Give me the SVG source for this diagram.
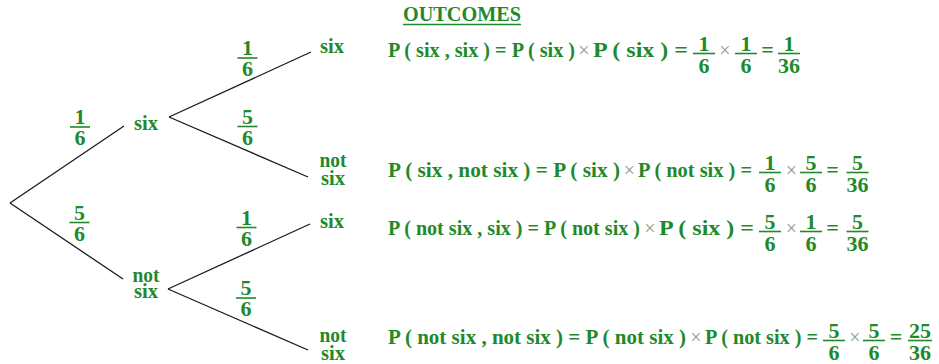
<svg xmlns="http://www.w3.org/2000/svg" width="939" height="364" viewBox="0 0 939 364">
<style>
text{font-family:"Liberation Serif","Times New Roman",serif;font-weight:bold;font-size:22px;fill:#1f8a2b}
.m{text-anchor:middle}
.x{font-weight:normal;font-size:20px;fill:#8a9e8a}
.bar{stroke:#1f8a2b;stroke-width:1.6}
.edge{stroke:#1a1a1a;stroke-width:1.3;fill:none}
</style>
<rect width="939" height="364" fill="#ffffff"/>

<g id="connectors" class="edge">
<line x1="10" y1="203" x2="124" y2="126"/>
<line x1="10" y1="203" x2="123" y2="279"/>
<line x1="169" y1="117" x2="311" y2="52"/>
<line x1="169" y1="117" x2="308" y2="177"/>
<line x1="168" y1="289" x2="310" y2="224"/>
<line x1="168" y1="289" x2="308" y2="350"/>
</g>

<g id="edge-labels">
<g id="p-root-six"><line class="bar" x1="70" y1="127" x2="90" y2="127"/><text class="m" x="80" y="124">1</text><text class="m" x="80" y="145">6</text></g>
<g id="p-root-notsix"><line class="bar" x1="69.5" y1="222.5" x2="89.5" y2="222.5"/><text class="m" x="79.5" y="219.5">5</text><text class="m" x="79.5" y="240.5">6</text></g>
<g id="p-six-six"><line class="bar" x1="237.5" y1="58" x2="257.5" y2="58"/><text class="m" x="247.5" y="55">1</text><text class="m" x="247.5" y="76">6</text></g>
<g id="p-six-notsix"><line class="bar" x1="237.5" y1="126.5" x2="257.5" y2="126.5"/><text class="m" x="247.5" y="123.5">5</text><text class="m" x="247.5" y="144.5">6</text></g>
<g id="p-notsix-six"><line class="bar" x1="236.5" y1="227.5" x2="256.5" y2="227.5"/><text class="m" x="246.5" y="224.5">1</text><text class="m" x="246.5" y="245.5">6</text></g>
<g id="p-notsix-notsix"><line class="bar" x1="236" y1="298" x2="256" y2="298"/><text class="m" x="246" y="295">5</text><text class="m" x="246" y="316">6</text></g>
</g>

<g id="node-six"><text class="m" x="146" y="129.5" textLength="24" lengthAdjust="spacingAndGlyphs">six</text></g>
<g id="node-notsix"><text class="m" x="146" y="281.5" textLength="27" lengthAdjust="spacingAndGlyphs">not</text><text class="m" x="146" y="298" textLength="24" lengthAdjust="spacingAndGlyphs">six</text></g>
<g id="leaf-six-six"><text class="m" x="332" y="53" textLength="24" lengthAdjust="spacingAndGlyphs">six</text></g>
<g id="leaf-six-notsix"><text class="m" x="333" y="167" textLength="27" lengthAdjust="spacingAndGlyphs">not</text><text class="m" x="333" y="185" textLength="24" lengthAdjust="spacingAndGlyphs">six</text></g>
<g id="leaf-notsix-six"><text class="m" x="332" y="228" textLength="24" lengthAdjust="spacingAndGlyphs">six</text></g>
<g id="leaf-notsix-notsix"><text class="m" x="333" y="342" textLength="27" lengthAdjust="spacingAndGlyphs">not</text><text class="m" x="333" y="360" textLength="24" lengthAdjust="spacingAndGlyphs">six</text></g>

<g id="outcomes">
<text x="403" y="21" textLength="118" lengthAdjust="spacingAndGlyphs">OUTCOMES</text>
<line class="bar" x1="403" y1="24.5" x2="521" y2="24.5"/>

<g id="row1">
<text x="388" y="57" textLength="187" lengthAdjust="spacingAndGlyphs">P ( six , six ) = P ( six )</text>
<text class="m x" x="584" y="57">×</text>
<text x="593" y="57" textLength="95" lengthAdjust="spacingAndGlyphs">P ( six ) =</text>
<line class="bar" x1="693" y1="53.5" x2="715" y2="53.5"/><text class="m" x="704" y="51">1</text><text class="m" x="704" y="72.5">6</text>
<text class="m x" x="725" y="57">×</text>
<line class="bar" x1="735" y1="53.5" x2="757" y2="53.5"/><text class="m" x="746" y="51">1</text><text class="m" x="746" y="72.5">6</text>
<text class="m" x="767.5" y="57">=</text>
<line class="bar" x1="778" y1="53.5" x2="800" y2="53.5"/><text class="m" x="789" y="51">1</text><text class="m" x="789" y="72.5">36</text>
</g>

<g id="row2">
<text x="388" y="177" textLength="232" lengthAdjust="spacingAndGlyphs">P ( six , not six ) = P ( six )</text>
<text class="m x" x="629.5" y="177">×</text>
<text x="638" y="177" textLength="114" lengthAdjust="spacingAndGlyphs">P ( not six ) =</text>
<line class="bar" x1="759" y1="172.5" x2="781" y2="172.5"/><text class="m" x="770" y="170">1</text><text class="m" x="770" y="191.5">6</text>
<text class="m x" x="791.5" y="177">×</text>
<line class="bar" x1="800" y1="172.5" x2="822" y2="172.5"/><text class="m" x="811" y="170">5</text><text class="m" x="811" y="191.5">6</text>
<text class="m" x="832.5" y="177">=</text>
<line class="bar" x1="846.5" y1="172.5" x2="868.5" y2="172.5"/><text class="m" x="857.5" y="170">5</text><text class="m" x="857.5" y="191.5">36</text>
</g>

<g id="row3">
<text x="388" y="235" textLength="252" lengthAdjust="spacingAndGlyphs">P ( not six , six ) = P ( not six )</text>
<text class="m x" x="650" y="235">×</text>
<text x="659" y="235" textLength="95" lengthAdjust="spacingAndGlyphs">P ( six ) =</text>
<line class="bar" x1="759" y1="231.5" x2="781" y2="231.5"/><text class="m" x="770" y="229">5</text><text class="m" x="770" y="250.5">6</text>
<text class="m x" x="791.5" y="235">×</text>
<line class="bar" x1="800" y1="231.5" x2="822" y2="231.5"/><text class="m" x="811" y="229">1</text><text class="m" x="811" y="250.5">6</text>
<text class="m" x="832.5" y="235">=</text>
<line class="bar" x1="846.5" y1="231.5" x2="868.5" y2="231.5"/><text class="m" x="857.5" y="229">5</text><text class="m" x="857.5" y="250.5">36</text>
</g>

<g id="row4">
<text x="388" y="344" textLength="298" lengthAdjust="spacingAndGlyphs">P ( not six , not six ) = P ( not six )</text>
<text class="m x" x="696" y="344">×</text>
<text x="705" y="344" textLength="113" lengthAdjust="spacingAndGlyphs">P ( not six ) =</text>
<line class="bar" x1="823" y1="340.5" x2="845" y2="340.5"/><text class="m" x="834" y="338">5</text><text class="m" x="834" y="359.5">6</text>
<text class="m x" x="855" y="344">×</text>
<line class="bar" x1="863" y1="340.5" x2="885" y2="340.5"/><text class="m" x="874" y="338">5</text><text class="m" x="874" y="359.5">6</text>
<text class="m" x="896" y="344">=</text>
<line class="bar" x1="908" y1="340.5" x2="932" y2="340.5"/><text class="m" x="920" y="338">25</text><text class="m" x="920" y="359.5">36</text>
</g>
</g>
</svg>
